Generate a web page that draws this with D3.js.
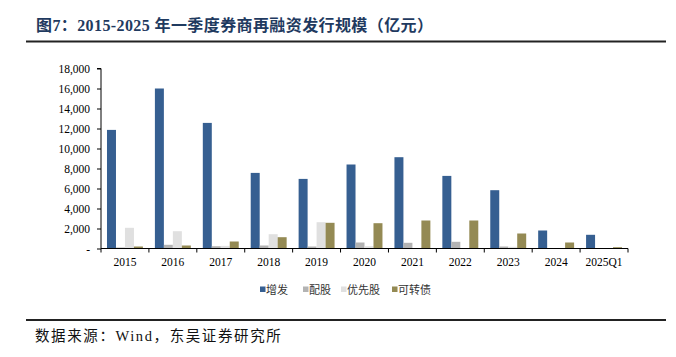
<!DOCTYPE html>
<html>
<head>
<meta charset="utf-8">
<script src="https://cdn.jsdelivr.net/npm/d3@7"></script>
<style>
  html, body { margin: 0; padding: 0; background: #fff; }
  svg { display: block; }
</style>
</head>
<body>
<svg id="chart" width="676" height="357"></svg>
<script>
// ---- data ----
const categories = ["2015","2016","2017","2018","2019","2020","2021","2022","2023","2024","2025Q1"];
const seriesNames = ["增发","配股","优先股","可转债"];
const zengfa   = [11860, 16000, 12560, 7560, 6960, 8400, 9130, 7260, 5830, 1800, 1370];
const peigu    = [100, 370, 230, 300, 200, 600, 570, 670, 200, 0, 0];
const youxian  = [2070, 1730, 260, 1430, 2630, 230, 0, 0, 170, 30, 0];
const kezhuan  = [200, 300, 700, 1130, 2570, 2530, 2800, 2800, 1500, 600, 130];
const yTicks   = [0, 2000, 4000, 6000, 8000, 10000, 12000, 14000, 16000, 18000];
const colors   = ["#365F91", "#B3B3B3", "#E0E0E0", "#948A54"];

const seriesValues = [zengfa, peigu, youxian, kezhuan];

const svg = d3.select("#chart");
const serif = "'Liberation Serif','Times New Roman','Noto Sans CJK SC',serif";

// title
svg.append("text")
  .attr("x", 36).attr("y", 30.5)
  .attr("font-family", serif)
  .attr("font-weight", "bold")
  .attr("font-size", 16)
  .attr("letter-spacing", 0.4)
  .attr("fill", "#1F3A60")
  .text("图7：2015-2025 年一季度券商再融资发行规模（亿元）");

svg.append("line")
  .attr("x1", 26).attr("x2", 666).attr("y1", 41.5).attr("y2", 41.5)
  .attr("stroke", "#222").attr("stroke-width", 2);

// scales
const x = d3.scaleBand().domain(categories).range([101, 628])
  .paddingInner(0.25).paddingOuter(0.125);
const xs = d3.scaleBand().domain(seriesNames).range([0, x.bandwidth()]);
const y = d3.scaleLinear().domain([0, 18000]).range([248.5, 68.5]);

// bars
const barData = [];
categories.forEach((c, i) => {
  seriesNames.forEach((s, j) => {
    barData.push({cat: c, series: s, value: seriesValues[j][i], color: colors[j]});
  });
});
svg.append("g").selectAll("rect").data(barData).join("rect")
  .attr("x", d => x(d.cat) + xs(d.series))
  .attr("width", xs.bandwidth())
  .attr("y", d => y(d.value))
  .attr("height", d => y(0) - y(d.value))
  .attr("fill", d => d.color);

// y axis
const yAxis = d3.axisLeft(y).tickValues(yTicks).tickSize(4).tickPadding(7)
  .tickFormat(d => d === 0 ? "-" : d3.format(",")(d));
const gy = svg.append("g").attr("transform", "translate(101,0)").call(yAxis);
gy.select(".domain").attr("d", `M-4,${y(18000)}H0V${y(0)}`).attr("stroke", "#000");
gy.selectAll("text").attr("font-family", serif).attr("font-size", 11.5).attr("fill", "#000");
gy.selectAll(".tick line").attr("stroke", "#000");

// x axis
const step = x.step();
const x0 = x.range()[0];
const boundaries = d3.range(categories.length + 1).map(i => x0 + i * step);
const gx = svg.append("g");
gx.append("line").attr("x1", x0).attr("x2", x.range()[1])
  .attr("y1", y(0)).attr("y2", y(0)).attr("stroke", "#000");
gx.selectAll("line.t").data(boundaries).join("line").attr("class", "t")
  .attr("x1", d => d).attr("x2", d => d)
  .attr("y1", y(0)).attr("y2", y(0) + 4).attr("stroke", "#000");
gx.selectAll("text").data(categories).join("text")
  .attr("x", d => x(d) + x.bandwidth() / 2)
  .attr("y", 266)
  .attr("text-anchor", "middle")
  .attr("font-family", serif).attr("font-size", 11.5).attr("fill", "#000")
  .text(d => d);

// legend
const legendX = [260, 303, 341, 392];
const lg = svg.append("g");
seriesNames.forEach((s, j) => {
  lg.append("rect").attr("x", legendX[j]).attr("y", 286.5).attr("width", 5.5).attr("height", 5.5)
    .attr("fill", colors[j]);
  lg.append("text").attr("x", legendX[j] + 6).attr("y", 293.5)
    .attr("font-family", "'Noto Sans CJK SC',sans-serif").attr("font-size", 11).attr("fill", "#333")
    .text(s);
});

// bottom line and source
svg.append("line")
  .attr("x1", 26).attr("x2", 666).attr("y1", 320).attr("y2", 320)
  .attr("stroke", "#222").attr("stroke-width", 2);
svg.append("text")
  .attr("x", 35).attr("y", 341)
  .attr("font-family", serif)
  .attr("font-size", 14.5).attr("letter-spacing", 1.6).attr("fill", "#111")
  .text("数据来源：Wind，东吴证券研究所");
</script>
</body>
</html>
